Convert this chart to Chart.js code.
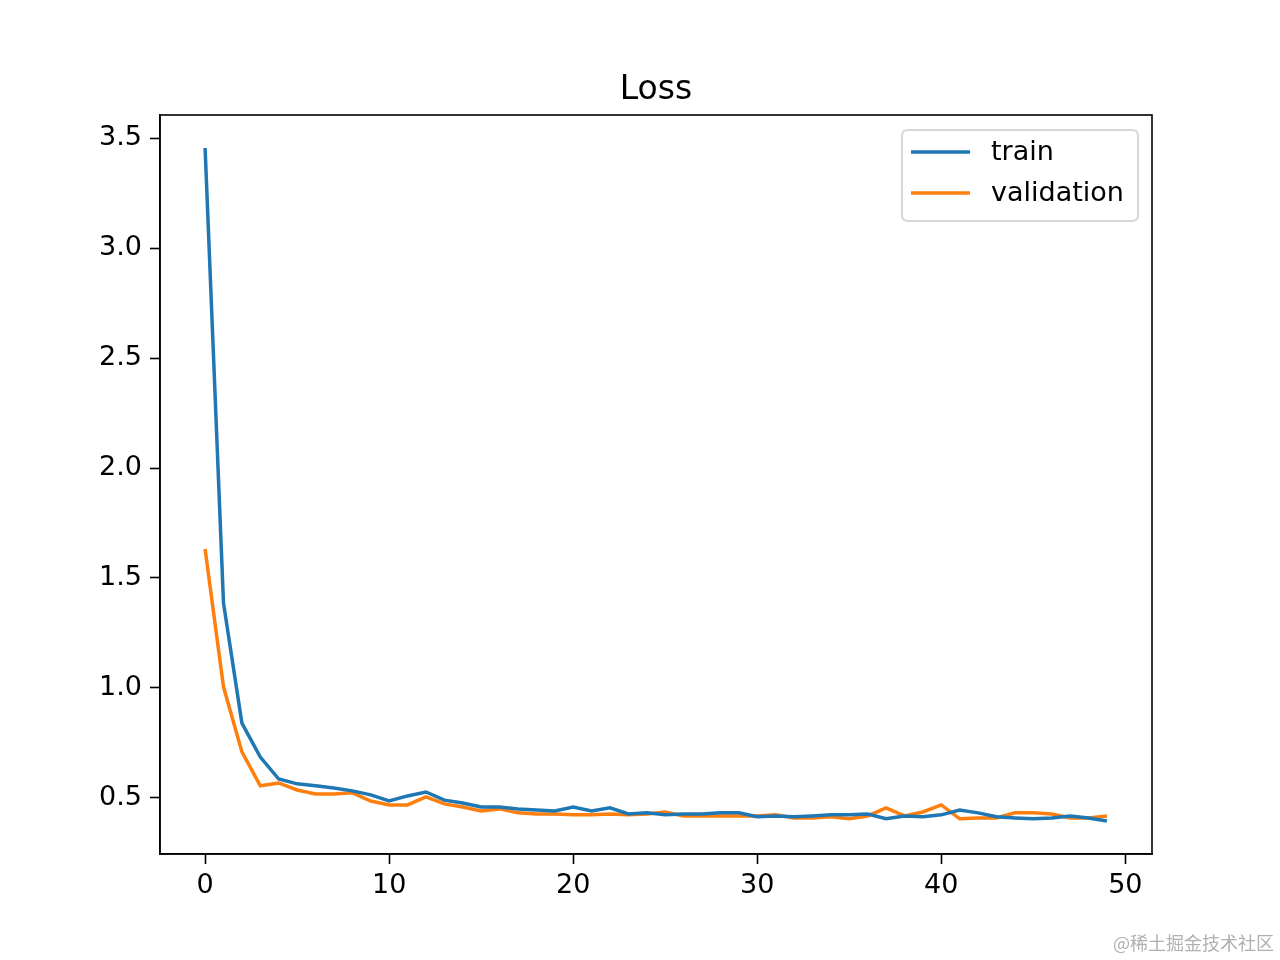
<!DOCTYPE html>
<html>
<head>
<meta charset="utf-8">
<script src="https://cdn.jsdelivr.net/npm/chart.js@4.4.1/dist/chart.umd.min.js"></script>
<style>
html,body{margin:0;padding:0;background:#fff;}
#wrap{width:1280px;height:960px;position:relative;}
canvas{display:block;}
</style>
</head>
<body>
<div id="wrap"><canvas id="c" width="1280" height="960"></canvas></div>
<script>
const epochs = [0,1,2,3,4,5,6,7,8,9,10,11,12,13,14,15,16,17,18,19,20,21,22,23,24,25,26,27,28,29,30,31,32,33,34,35,36,37,38,39,40,41,42,43,44,45,46,47,48,49];
const trainLoss = [3.455,1.386,0.840,0.686,0.586,0.564,0.555,0.545,0.532,0.514,0.486,0.509,0.527,0.490,0.477,0.459,0.459,0.450,0.445,0.441,0.459,0.441,0.455,0.427,0.432,0.423,0.427,0.427,0.432,0.432,0.414,0.418,0.414,0.418,0.423,0.423,0.427,0.405,0.418,0.414,0.423,0.445,0.432,0.414,0.409,0.405,0.409,0.418,0.409,0.395];
const valLoss = [1.632,1.005,0.709,0.555,0.568,0.536,0.518,0.518,0.523,0.486,0.468,0.468,0.505,0.473,0.459,0.441,0.450,0.432,0.427,0.427,0.423,0.423,0.427,0.423,0.427,0.436,0.418,0.418,0.418,0.418,0.418,0.423,0.409,0.409,0.414,0.405,0.418,0.455,0.418,0.436,0.468,0.405,0.409,0.409,0.432,0.432,0.427,0.409,0.409,0.418];
const seriesNames = ['train','validation'];
const xTicks = [0,10,20,30,40,50];
const yTicks = [0.5,1.0,1.5,2.0,2.5,3.0,3.5];
const titleText = 'Loss';
const watermark = '@稀土掘金技术社区';

const FONT = "'DejaVu Sans', sans-serif";

const overlay = {
  id: 'overlay',
  afterDraw(chart) {
    const ctx = chart.ctx;
    const a = chart.chartArea;
    ctx.save();
    // frame
    ctx.strokeStyle = '#000';
    ctx.lineWidth = 1.6;
    ctx.strokeRect(a.left, a.top, a.right - a.left, a.bottom - a.top);
    // title
    ctx.fillStyle = '#000';
    ctx.font = "33px " + FONT;
    ctx.textAlign = 'center';
    ctx.textBaseline = 'alphabetic';
    ctx.fillText(titleText, (a.left + a.right) / 2, 99);
    // legend
    const lx = 902, ly = 130, lw = 236, lh = 91, r = 6;
    ctx.beginPath();
    ctx.moveTo(lx + r, ly);
    ctx.lineTo(lx + lw - r, ly);
    ctx.quadraticCurveTo(lx + lw, ly, lx + lw, ly + r);
    ctx.lineTo(lx + lw, ly + lh - r);
    ctx.quadraticCurveTo(lx + lw, ly + lh, lx + lw - r, ly + lh);
    ctx.lineTo(lx + r, ly + lh);
    ctx.quadraticCurveTo(lx, ly + lh, lx, ly + lh - r);
    ctx.lineTo(lx, ly + r);
    ctx.quadraticCurveTo(lx, ly, lx + r, ly);
    ctx.closePath();
    ctx.fillStyle = 'rgba(255,255,255,0.8)';
    ctx.fill();
    ctx.strokeStyle = '#d6d6d6';
    ctx.lineWidth = 2;
    ctx.stroke();
    chart.data.datasets.forEach((ds, i) => {
      const y = 152 + i * 41;
      ctx.strokeStyle = ds.borderColor;
      ctx.lineWidth = ds.borderWidth;
      ctx.beginPath();
      ctx.moveTo(911, y);
      ctx.lineTo(970, y);
      ctx.stroke();
      ctx.fillStyle = '#000';
      ctx.font = "27px " + FONT;
      ctx.textAlign = 'left';
      ctx.textBaseline = 'middle';
      ctx.fillText(ds.label, 991, y + 1);
    });
    // watermark
    ctx.fillStyle = '#b0b0b0';
    ctx.font = "18px 'Noto Sans CJK SC', sans-serif";
    ctx.textAlign = 'right';
    ctx.textBaseline = 'middle';
    ctx.fillText(watermark, 1274, 943);
    ctx.restore();
  }
};

new Chart(document.getElementById('c'), {
  type: 'line',
  data: {
    datasets: [
      { label: seriesNames[0], data: trainLoss.map((v, i) => ({x: epochs[i], y: v})), borderColor: '#1f77b4', borderWidth: 3.5, pointRadius: 0, tension: 0, fill: false },
      { label: seriesNames[1], data: valLoss.map((v, i) => ({x: epochs[i], y: v})), borderColor: '#ff7f0e', borderWidth: 3.5, pointRadius: 0, tension: 0, fill: false }
    ]
  },
  options: {
    responsive: false,
    animation: false,
    events: [],
    layout: { padding: { top: 115, right: 128, bottom: 0, left: 0 } },
    plugins: { legend: { display: false }, title: { display: false }, tooltip: { enabled: false } },
    scales: {
      x: {
        type: 'linear',
        min: -2.45, max: 51.45,
        afterBuildTicks(s) { s.ticks = xTicks.map(v => ({value: v})); },
        afterFit(s) { s.height = 106; },
        grid: { display: true, drawOnChartArea: false, drawTicks: true, tickLength: 10, color: '#000', tickWidth: 1.6 },
        border: { display: true, color: '#000', width: 1.6 },
        ticks: { color: '#000', font: { family: FONT, size: 27 }, padding: 6, maxRotation: 0, autoSkip: false, callback: v => String(v) }
      },
      y: {
        type: 'linear',
        min: 0.245, max: 3.605,
        afterBuildTicks(s) { s.ticks = yTicks.map(v => ({value: v})); },
        afterFit(s) { s.width = 160; },
        grid: { display: true, drawOnChartArea: false, drawTicks: true, tickLength: 10, color: '#000', tickWidth: 1.6 },
        border: { display: true, color: '#000', width: 1.6 },
        ticks: { color: '#000', font: { family: FONT, size: 27 }, padding: 8, autoSkip: false, callback: v => v.toFixed(1) }
      }
    }
  },
  plugins: [overlay]
});
</script>
</body>
</html>
